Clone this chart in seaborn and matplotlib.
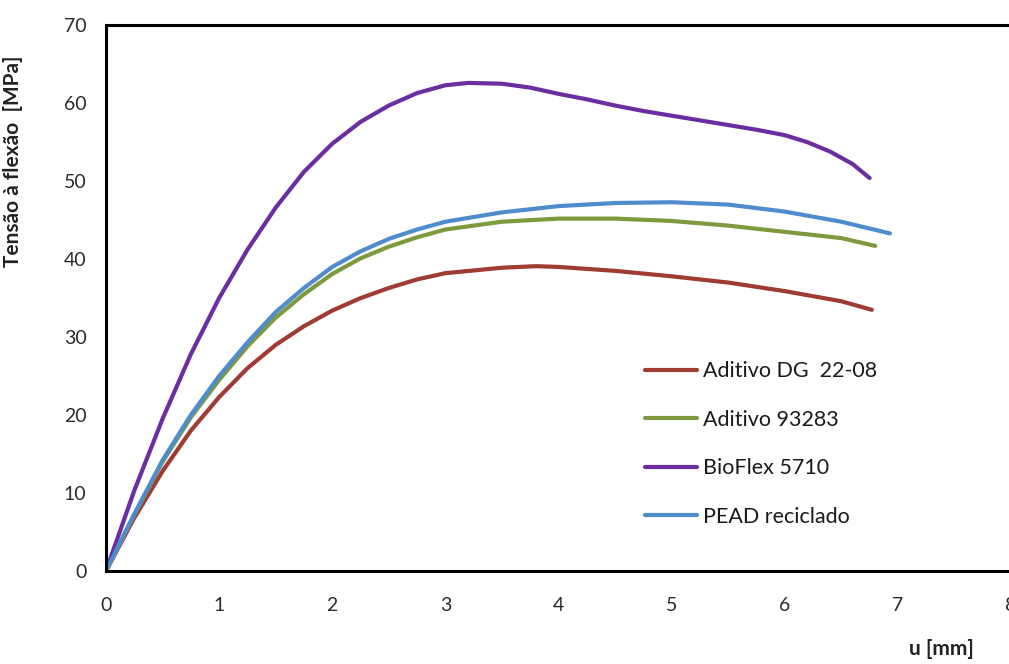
import numpy as np
import pandas as pd
import matplotlib
matplotlib.use("Agg")
import matplotlib.pyplot as plt
import seaborn as sns

series_names = ["Aditivo DG  22-08", "Aditivo 93283", "BioFlex 5710", "PEAD reciclado"]
colors = ["#9E3B33", "#7E9A3E", "#6A2EA0", "#4F8CCB"]

x_dg = [0, 0.25, 0.5, 0.75, 1.0, 1.25, 1.5, 1.75, 2.0, 2.25, 2.5, 2.75, 3.0, 3.5, 3.8, 4.0, 4.5, 5.0, 5.5, 6.0, 6.5, 6.77]
y_dg = [0, 6.8, 12.8, 18.0, 22.3, 26.0, 29.0, 31.4, 33.4, 35.0, 36.3, 37.4, 38.2, 38.9, 39.1, 39.0, 38.5, 37.8, 37.0, 35.9, 34.6, 33.5]

x_93 = [0, 0.25, 0.5, 0.75, 1.0, 1.25, 1.5, 1.75, 2.0, 2.25, 2.5, 2.75, 3.0, 3.5, 4.0, 4.5, 5.0, 5.5, 6.0, 6.5, 6.8]
y_93 = [0, 7.2, 14.0, 19.7, 24.5, 28.8, 32.5, 35.5, 38.1, 40.1, 41.6, 42.8, 43.8, 44.8, 45.2, 45.2, 44.9, 44.3, 43.5, 42.7, 41.7]

x_bio = [0, 0.25, 0.5, 0.75, 1.0, 1.25, 1.5, 1.75, 2.0, 2.25, 2.5, 2.75, 3.0, 3.2, 3.5, 3.75, 4.0, 4.25, 4.5, 4.75, 5.0,
         5.25, 5.5, 5.75, 6.0, 6.2, 6.4, 6.6, 6.75]
y_bio = [0, 10.3, 19.5, 27.8, 35.0, 41.2, 46.6, 51.2, 54.8, 57.6, 59.7, 61.3, 62.3, 62.6, 62.5, 62.0, 61.2, 60.5, 59.7, 59.0, 58.4,
         57.8, 57.2, 56.6, 55.9, 55.0, 53.8, 52.2, 50.4]

x_pead = [0, 0.25, 0.5, 0.75, 1.0, 1.25, 1.5, 1.75, 2.0, 2.25, 2.5, 2.75, 3.0, 3.5, 4.0, 4.5, 5.0, 5.5, 6.0, 6.5, 6.93]
y_pead = [0, 7.3, 14.2, 20.0, 25.0, 29.3, 33.2, 36.3, 39.0, 41.0, 42.6, 43.8, 44.8, 46.0, 46.8, 47.2, 47.3, 47.0, 46.1, 44.8, 43.3]

x_ticks = [0, 1, 2, 3, 4, 5, 6, 7, 8]
y_ticks = [0, 10, 20, 30, 40, 50, 60, 70]

frames = []
for name, xs, ys in zip(series_names, [x_dg, x_93, x_bio, x_pead], [y_dg, y_93, y_bio, y_pead]):
    frames.append(pd.DataFrame({"u": xs, "s": ys, "serie": name}))
df = pd.concat(frames, ignore_index=True)

sns.set_style("white")
plt.rcParams["font.family"] = ["Lato", "DejaVu Sans"]

fig = plt.figure(figsize=(10.09, 6.64), dpi=100)
ax = fig.add_axes([0.105, 0.14, 0.897, 0.822])

sns.lineplot(data=df, x="u", y="s", hue="serie", hue_order=series_names,
             palette=colors, linewidth=3.0, sort=False, estimator=None, ax=ax)
for ln in ax.get_lines():
    ln.set_solid_joinstyle("round")
    ln.set_solid_capstyle("round")

ax.set_xlim(0, 8)
ax.set_ylim(0, 70)
ax.set_xticks(x_ticks)
ax.set_yticks(y_ticks)
for sp in ax.spines.values():
    sp.set_linewidth(2.2)
    sp.set_color("black")
ax.tick_params(axis="both", direction="in", length=6, width=2, colors="black",
               labelsize=14, labelcolor="#2b2b2b")
ax.tick_params(axis="x", pad=19)
ax.tick_params(axis="y", pad=14)

ax.set_xlabel("u [mm]", fontsize=15, fontweight="bold", color="#222222")
ax.xaxis.set_label_coords(0.923, -0.125)
ax.set_ylabel("Tensão à flexão  [MPa]", fontsize=15, fontweight="bold", color="#222222")
ax.yaxis.set_label_coords(-0.092, 0.75)

leg = ax.legend(loc="upper left", bbox_to_anchor=(0.596, 0.384), frameon=False,
                fontsize=15.5, labelspacing=1.32, handlelength=2.4, handletextpad=0.28,
                borderpad=0, borderaxespad=0)
for line in leg.get_lines():
    line.set_linewidth(3.0)
for t in leg.get_texts():
    t.set_color("#1a1a1a")

fig.savefig("out.png", dpi=100)
